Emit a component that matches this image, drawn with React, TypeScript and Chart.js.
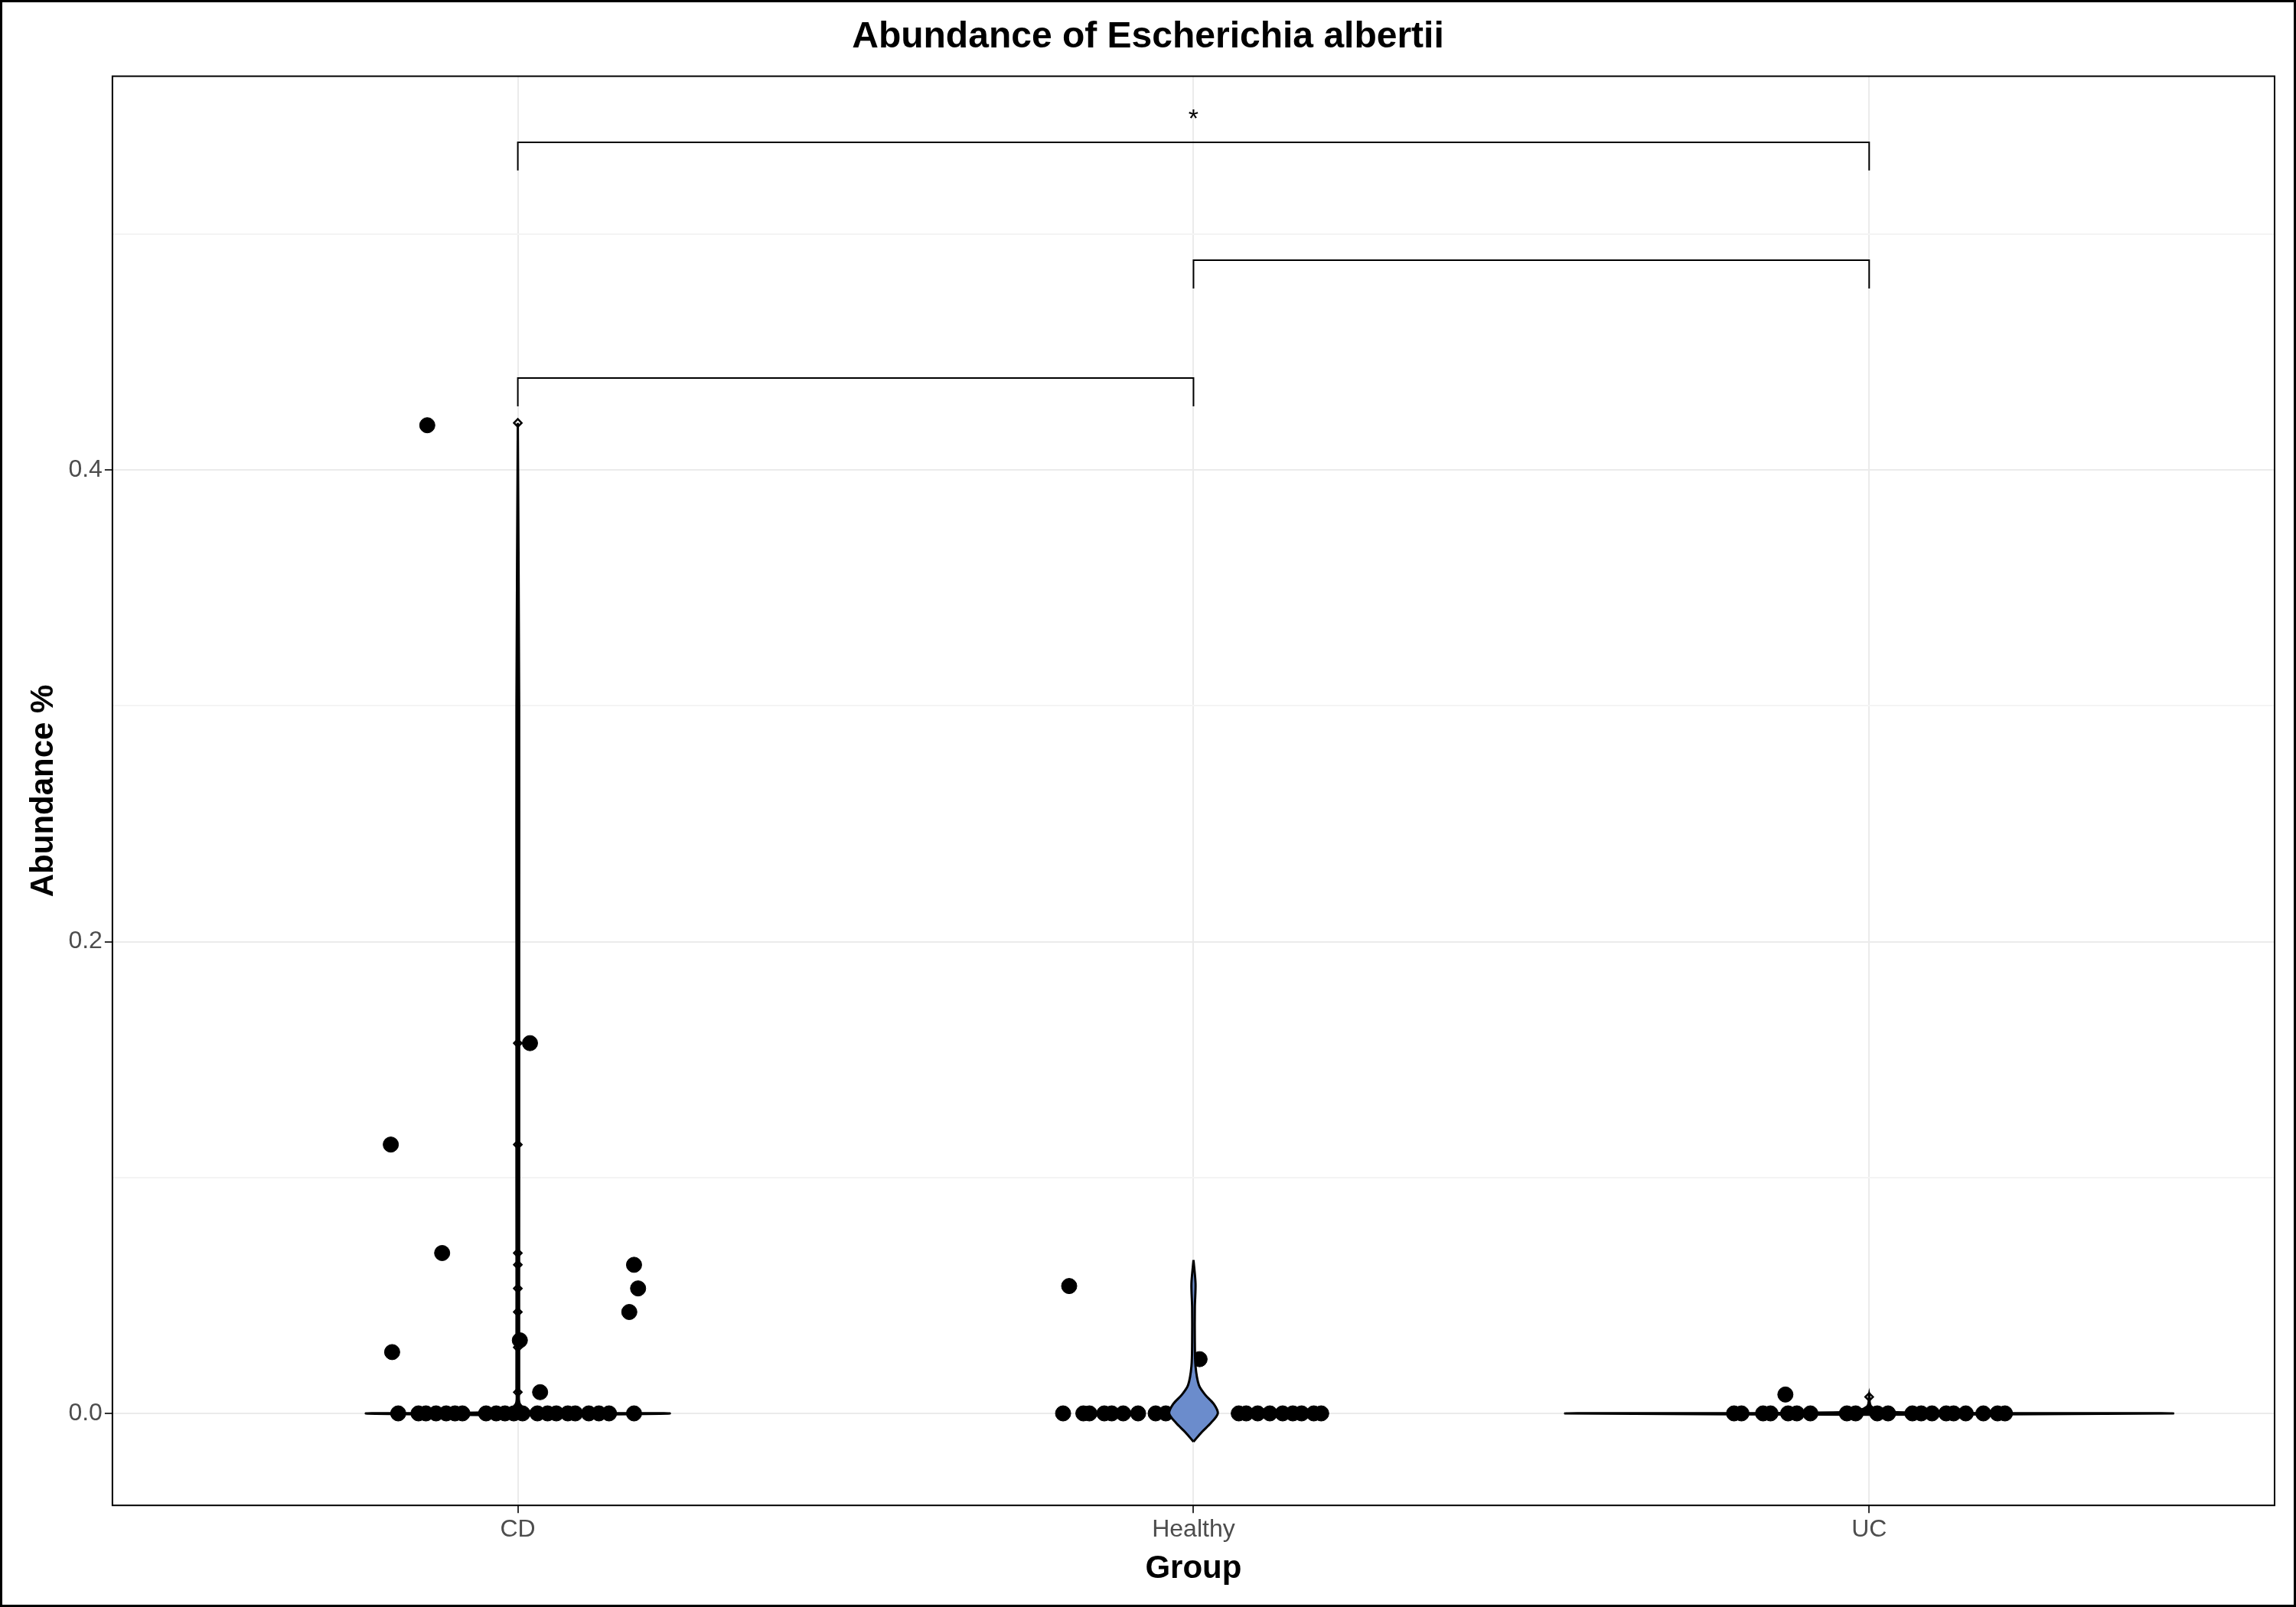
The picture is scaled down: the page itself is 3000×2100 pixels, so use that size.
import { useEffect, useRef } from "react";
import Chart from "chart.js/auto";

const groups = ["CD", "Healthy", "UC"];

// jittered sample points
const cdX = [0.866, 0.812, 0.888, 0.814, 1.018, 1.003, 1.033, 1.172, 1.178, 1.165,
  0.823, 0.853, 0.864, 0.879, 0.894, 0.907, 0.918, 0.953, 0.968, 0.981, 0.994, 1.007, 1.029, 1.044, 1.057, 1.074, 1.085, 1.105, 1.12, 1.135, 1.172];
const cdY = [0.419, 0.114, 0.068, 0.026, 0.157, 0.031, 0.009, 0.063, 0.053, 0.043,
  0, 0, 0, 0, 0, 0, 0, 0, 0, 0, 0, 0, 0, 0, 0, 0, 0, 0, 0, 0, 0];
const hX = [1.816, 2.009, 1.807, 1.837, 1.846, 1.868, 1.879, 1.896, 1.918, 1.944, 1.959, 1.976, 1.991, 2.004, 2.067, 2.078, 2.095, 2.113, 2.132, 2.147, 2.16, 2.178, 2.189];
const hY = [0.054, 0.023, 0, 0, 0, 0, 0, 0, 0, 0, 0, 0, 0, 0, 0, 0, 0, 0, 0, 0, 0, 0, 0];
const ucX = [2.876, 2.8, 2.811, 2.843, 2.854, 2.88, 2.893, 2.913, 2.967, 2.98, 3.012, 3.028, 3.064, 3.077, 3.093, 3.114, 3.125, 3.143, 3.169, 3.19, 3.201];
const ucY = [0.008, 0, 0, 0, 0, 0, 0, 0, 0, 0, 0, 0, 0, 0, 0, 0, 0, 0, 0, 0, 0];

// boxplot outliers (on group centre)
const cdOut = [0.42, 0.157, 0.114, 0.068, 0.063, 0.053, 0.043, 0.028, 0.009];
const ucOut = [0.007];

// violin profiles: y levels and half widths
const cdVy = [-0.0008, 0, 0.0008, 0.004, 0.01, 0.1, 0.2, 0.3, 0.42];
const cdVw = [0, 0.225, 0.02, 0.003, 0.002, 0.002, 0.002, 0.002, 0];
const hVy = [-0.012, -0.008, -0.004, 0, 0.004, 0.008, 0.012, 0.02, 0.03, 0.045, 0.055, 0.065];
const hVw = [0, 0.012, 0.026, 0.036, 0.03, 0.017, 0.008, 0.003, 0.002, 0.002, 0.003, 0];
const ucVy = [-0.0006, 0, 0.0006, 0.003, 0.008];
const ucVw = [0, 0.45, 0.03, 0.003, 0];

// significance brackets: [x1, x2, y, label]
const brackets: [number, number, number, string][] = [
  [1, 3, 0.539, "*"],
  [2, 3, 0.489, ""],
  [1, 2, 0.439, ""],
];

function violin(cx: number, ys: number[], ws: number[]) {
  const right = ys.map((y, i) => ({ x: cx + ws[i], y }));
  const left = ys.map((y, i) => ({ x: cx - ws[i], y })).reverse();
  return [...right, ...left, right[0]];
}

export default function App() {
  const ref = useRef<HTMLCanvasElement>(null);
  useEffect(() => {
    if (!ref.current) return;
    const pts = (xs: number[], ys: number[]) => xs.map((x, i) => ({ x, y: ys[i] }));
    const vio = (cx: number, ys: number[], ws: number[], fill: string) => ({
      type: "line" as const,
      data: violin(cx, ys, ws),
      borderColor: "#000",
      borderWidth: 3,
      backgroundColor: fill,
      fill: "shape" as const,
      pointRadius: 0,
      tension: 0.3,
    });
    const brk = brackets.map(([a, b, y]) => ({
      type: "line" as const,
      data: [{ x: a, y: y - 0.012 }, { x: a, y }, { x: b, y }, { x: b, y: y - 0.012 }],
      borderColor: "#000",
      borderWidth: 2,
      pointRadius: 0,
      fill: false,
    }));
    const dots = (xs: number[], ys: number[]) => ({
      type: "scatter" as const,
      data: pts(xs, ys),
      backgroundColor: "#000",
      borderColor: "#000",
      pointRadius: 10,
    });
    const outs = (cx: number, ys: number[]) => ({
      type: "scatter" as const,
      data: ys.map((y) => ({ x: cx, y })),
      pointStyle: "rectRot" as const,
      backgroundColor: "#fff",
      borderColor: "#000",
      borderWidth: 2.5,
      pointRadius: 5,
    });
    const font = "Arial, Liberation Sans";
    const chart = new Chart(ref.current, {
      type: "scatter",
      data: {
        datasets: [
          vio(1, cdVy, cdVw, "#000"),
          vio(2, hVy, hVw, "#6b8ccc"),
          vio(3, ucVy, ucVw, "#000"),
          outs(1, cdOut),
          outs(3, ucOut),
          dots(cdX, cdY),
          dots(hX, hY),
          dots(ucX, ucY),
          ...brk,
        ] as any,
      },
      options: {
        animation: false,
        responsive: false,
        layout: { padding: { left: 28, right: 28, top: 10, bottom: 20 } },
        plugins: {
          legend: { display: false },
          tooltip: { enabled: false },
          title: {
            display: true,
            text: "Abundance of Escherichia albertii",
            font: { family: font, size: 48, weight: "bold" },
            color: "#000",
            padding: { top: 10, bottom: 22 },
          },
        },
        scales: {
          x: {
            type: "linear",
            min: 0.4,
            max: 3.6,
            afterBuildTicks: (s: any) => { s.ticks = [1, 2, 3].map((v) => ({ value: v })); },
            ticks: {
              callback: (v: any) => groups[Number(v) - 1] ?? "",
              font: { family: font, size: 32 },
              color: "#4d4d4d",
            },
            grid: { color: "#ebebeb", lineWidth: 2, tickColor: "#333", tickLength: 10 },
            border: { display: false },
            title: {
              display: true,
              text: "Group",
              font: { family: font, size: 42, weight: "bold" },
              color: "#000",
            },
          },
          y: {
            min: -0.039,
            max: 0.567,
            afterBuildTicks: (s: any) => { s.ticks = [0, 0.1, 0.2, 0.3, 0.4, 0.5].map((v) => ({ value: v })); },
            ticks: {
              callback: (v: any) => {
                const n = Math.round(Number(v) * 10);
                return n % 2 === 0 ? (Number(v)).toFixed(1) : "";
              },
              font: { family: font, size: 32 },
              color: "#4d4d4d",
            },
            grid: {
              color: (c: any) => (Math.round(c.tick.value * 10) % 2 === 0 ? "#ebebeb" : "#f4f4f4"),
              lineWidth: 2,
              tickColor: (c: any) => (Math.round(c.tick.value * 10) % 2 === 0 ? "#333" : "transparent"),
              tickLength: 10,
            },
            border: { display: false },
            title: {
              display: true,
              text: "Abundance %",
              font: { family: font, size: 42, weight: "bold" },
              color: "#000",
            },
          },
        },
      },
      plugins: [
        {
          id: "frame",
          afterDraw: (c: any) => {
            const { ctx, chartArea: a, scales } = c;
            ctx.save();
            ctx.strokeStyle = "#000";
            ctx.lineWidth = 2;
            ctx.strokeRect(a.left, a.top, a.right - a.left, a.bottom - a.top);
            ctx.lineWidth = 3;
            ctx.strokeRect(1.5, 1.5, c.width - 3, c.height - 3);
            ctx.fillStyle = "#000";
            ctx.font = "34px Arial, Liberation Sans";
            ctx.textAlign = "center";
            ctx.textBaseline = "bottom";
            brackets.forEach(([x1, x2, y, t]) => {
              if (!t) return;
              ctx.fillText(t, scales.x.getPixelForValue((x1 + x2) / 2), scales.y.getPixelForValue(y) - 12);
            });
            ctx.restore();
          },
        },
      ],
    });
    return () => chart.destroy();
  }, []);
  return (
    <div style={{ position: "fixed", left: 0, top: 0, width: 3000, height: 2100, background: "#fff" }}>
      <canvas ref={ref} width={3000} height={2100} style={{ width: 3000, height: 2100 }} />
    </div>
  );
}
